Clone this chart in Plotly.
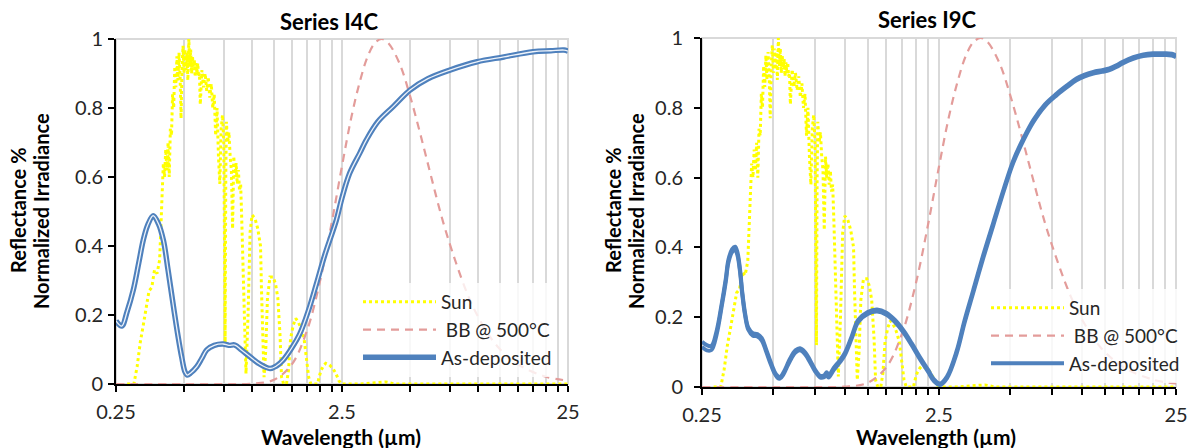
import math
import plotly.graph_objects as go

# ---------------- data ----------------
wl_sun = [0.28, 0.30, 0.31, 0.32, 0.33, 0.34, 0.35, 0.36, 0.37, 0.38, 0.39,
          0.400, 0.405, 0.410, 0.415, 0.420, 0.425, 0.430, 0.435, 0.440, 0.445, 0.450, 0.455,
          0.460, 0.465, 0.470, 0.475, 0.480, 0.485, 0.490, 0.495, 0.500, 0.505, 0.510, 0.515,
          0.520, 0.525, 0.530, 0.535, 0.540, 0.545, 0.550, 0.555, 0.560, 0.565, 0.570, 0.575,
          0.580, 0.585, 0.590, 0.595, 0.600, 0.610, 0.620, 0.630, 0.640, 0.650, 0.660, 0.670,
          0.680, 0.690, 0.700, 0.710, 0.720, 0.730, 0.740, 0.750, 0.760, 0.765, 0.770, 0.780,
          0.790, 0.800, 0.810, 0.820, 0.830, 0.840, 0.850, 0.860, 0.870, 0.880, 0.890, 0.900,
          0.92, 0.93, 0.94, 0.96, 0.98, 1.00, 1.03, 1.06, 1.09, 1.10, 1.12,
          1.13, 1.15, 1.17, 1.20, 1.24, 1.27, 1.30, 1.33, 1.35, 1.38, 1.42, 1.45, 1.48, 1.52, 1.56,
          1.60, 1.65, 1.70, 1.75, 1.78, 1.82, 1.90, 1.95, 1.98, 2.02, 2.08, 2.12, 2.20, 2.28, 2.35,
          2.42, 2.48, 2.60, 3.00, 3.40, 3.60, 3.90, 4.10, 4.30, 25.0]
sun_irr = [0.0, 0.0, 0.05, 0.12, 0.17, 0.22, 0.27, 0.28, 0.33, 0.32, 0.36,
           0.55, 0.64, 0.60, 0.68, 0.62, 0.70, 0.60, 0.74, 0.72, 0.84, 0.80, 0.92,
           0.86, 0.95, 0.88, 0.96, 0.90, 0.77, 0.92, 0.98, 0.90, 0.97, 0.91, 0.96,
           0.88, 1.00, 0.92, 0.97, 0.90, 0.95, 0.91, 0.94, 0.89, 0.93, 0.90, 0.93,
           0.89, 0.90, 0.81, 0.88, 0.91, 0.86, 0.90, 0.85, 0.89, 0.83, 0.87, 0.80,
           0.84, 0.72, 0.80, 0.66, 0.58, 0.74, 0.78, 0.70, 0.12, 0.60, 0.76, 0.70,
           0.73, 0.66, 0.62, 0.45, 0.66, 0.60, 0.64, 0.58, 0.62, 0.56, 0.58, 0.48,
           0.25, 0.10, 0.03, 0.20, 0.44, 0.49, 0.48, 0.45, 0.40, 0.28, 0.05,
           0.02, 0.10, 0.25, 0.31, 0.31, 0.29, 0.25, 0.14, 0.02, 0.0, 0.0, 0.04, 0.13, 0.17, 0.19,
           0.18, 0.16, 0.13, 0.07, 0.02, 0.0, 0.0, 0.0, 0.02, 0.04, 0.055, 0.06, 0.055, 0.045, 0.03,
           0.01, 0.0, 0.0, 0.0, 0.003, 0.005, 0.006, 0.003, 0.0, 0.0]

wl_bb = [0.25, 0.5, 0.75, 1.0, 1.25, 1.5, 1.75, 2.0, 2.25, 2.5, 2.75, 3.0, 3.25, 3.5, 3.75, 4.0,
         4.5, 5.0, 5.5, 6.0, 7.0, 8.0, 9.0, 10.0, 12.0, 15.0, 20.0, 25.0]
bb_500c = [0.0, 0.0, 0.0, 0.001, 0.012, 0.057, 0.155, 0.299, 0.467, 0.632, 0.773, 0.877, 0.950,
           0.989, 1.0, 0.989, 0.928, 0.835, 0.735, 0.638, 0.470, 0.350, 0.259, 0.195, 0.114,
           0.057, 0.021, 0.010]

wl_i4c = [0.25, 0.265, 0.28, 0.298, 0.315, 0.33, 0.345, 0.365, 0.385, 0.405, 0.425, 0.449, 0.47,
          0.488, 0.505, 0.517, 0.535, 0.569, 0.60, 0.63, 0.68, 0.745, 0.79, 0.84, 0.90, 0.98, 1.08,
          1.2, 1.28, 1.375, 1.5, 1.63, 1.78, 1.93, 2.1, 2.36, 2.5, 2.7, 3.0, 3.2, 3.6, 4.21, 5.0,
          6.0, 7.5, 9.9, 13.0, 17.5, 21.0, 24.0, 25.0]
refl_i4c = [0.183, 0.168, 0.21, 0.272, 0.35, 0.417, 0.46, 0.488, 0.465, 0.417, 0.33, 0.224, 0.14,
            0.079, 0.035, 0.026, 0.032, 0.05, 0.075, 0.099, 0.112, 0.116, 0.112, 0.113, 0.098,
            0.079, 0.058, 0.045, 0.052, 0.07, 0.105, 0.147, 0.215, 0.292, 0.375, 0.475, 0.54,
            0.61, 0.67, 0.707, 0.76, 0.804, 0.852, 0.885, 0.91, 0.934, 0.948, 0.963, 0.966, 0.968,
            0.965]

wl_i9c = [0.25, 0.262, 0.274, 0.288, 0.303, 0.315, 0.323, 0.335, 0.345, 0.353, 0.362, 0.37, 0.38,
          0.392, 0.41, 0.428, 0.447, 0.465, 0.484, 0.505, 0.52, 0.533, 0.55, 0.567, 0.587, 0.62,
          0.648, 0.68, 0.714, 0.75, 0.79, 0.82, 0.84, 0.855, 0.9, 0.95, 1.0, 1.07, 1.14, 1.25,
          1.37, 1.5, 1.63, 1.78, 1.92, 2.08, 2.25, 2.38, 2.52, 2.7, 2.97, 3.2, 3.48, 3.85, 4.24,
          4.7, 5.15, 5.7, 6.25, 7.0, 7.85, 8.7, 9.5, 10.3, 11.2, 12.2, 13.1, 14.0, 14.9, 16.5,
          18.2, 20.0, 22.0, 24.0, 25.0]
refl_i9c_a = [0.13, 0.12, 0.118, 0.16, 0.24, 0.31, 0.364, 0.395, 0.402, 0.385, 0.335, 0.27, 0.211,
              0.17, 0.154, 0.152, 0.14, 0.11, 0.077, 0.045, 0.032, 0.028, 0.04, 0.058, 0.08,
              0.105, 0.111, 0.1, 0.077, 0.05, 0.032, 0.034, 0.042, 0.033, 0.055, 0.075, 0.097,
              0.145, 0.192, 0.215, 0.222, 0.213, 0.192, 0.16, 0.125, 0.085, 0.049, 0.022, 0.01,
              0.03, 0.104, 0.19, 0.276, 0.38, 0.472, 0.57, 0.65, 0.715, 0.765, 0.81, 0.841, 0.865,
              0.884, 0.895, 0.903, 0.908, 0.913, 0.922, 0.932, 0.945, 0.953, 0.956, 0.956, 0.955,
              0.95]
refl_i9c_b = [0.115, 0.105, 0.106, 0.15, 0.232, 0.302, 0.356, 0.387, 0.393, 0.377, 0.328, 0.263,
              0.205, 0.164, 0.147, 0.145, 0.133, 0.104, 0.071, 0.04, 0.027, 0.024, 0.035, 0.053,
              0.074, 0.099, 0.105, 0.094, 0.071, 0.045, 0.027, 0.028, 0.034, 0.027, 0.049, 0.069,
              0.091, 0.139, 0.186, 0.209, 0.216, 0.207, 0.186, 0.154, 0.119, 0.079, 0.043, 0.017,
              0.006, 0.025, 0.097, 0.182, 0.268, 0.371, 0.464, 0.563, 0.643, 0.709, 0.759, 0.805,
              0.836, 0.86, 0.879, 0.89, 0.898, 0.903, 0.908, 0.917, 0.927, 0.94, 0.948, 0.951,
              0.951, 0.95, 0.945]

x_tick_vals = [0.25, 2.5, 25]
x_tick_text = ["0.25", "2.5", "25"]
x_minor_vals = [0.5, 0.75, 1.0, 1.25, 1.5, 1.75, 2.0, 2.25,
                5, 7.5, 10, 12.5, 15, 17.5, 20, 22.5]
y_tick_vals = [0, 0.2, 0.4, 0.6, 0.8, 1]
y_tick_text = ["0", "0.2", "0.4", "0.6", "0.8", "1"]

series_names = ["Sun", " BB @ 500\u00b0C", "As-deposited"]
panel_titles = ["Series I4C", "Series I9C"]
x_title = "Wavelength (\u00b5m)"
y_title_lines = ["Reflectance %", "Normalized Irradiance"]

# ---------------- styling ----------------
FONT = "Lato, Carlito, Calibri, sans-serif"
SUN_C = "#ffff00"
BB_C = "#e39c9a"
BLUE = "#4f81bd"
GRID = "#d9d9d9"
TXT = "#262626"
W, H = 1192, 448

fig = go.Figure()


def add_common(xa, ya, leg):
    fig.add_trace(go.Scatter(x=wl_sun, y=sun_irr, name=series_names[0], mode="lines",
                             line=dict(color=SUN_C, width=3, dash="dot"),
                             xaxis=xa, yaxis=ya, legend=leg, legendrank=1))
    fig.add_trace(go.Scatter(x=wl_bb, y=bb_500c, name=series_names[1], mode="lines",
                             line=dict(color=BB_C, width=2.2, dash="8px,6px", shape="spline"),
                             xaxis=xa, yaxis=ya, legend=leg, legendrank=2))


# left panel
add_common("x", "y", "legend")
fig.add_trace(go.Scatter(x=wl_i4c, y=refl_i4c, name=series_names[2], mode="lines",
                         line=dict(color=BLUE, width=5.5, shape="spline"),
                         xaxis="x", yaxis="y", legend="legend", legendrank=3))
fig.add_trace(go.Scatter(x=wl_i4c, y=refl_i4c, mode="lines", showlegend=False, hoverinfo="skip",
                         line=dict(color="#eef3fa", width=1.3, shape="spline"),
                         xaxis="x", yaxis="y"))

# right panel
add_common("x2", "y2", "legend2")
fig.add_trace(go.Scatter(x=wl_i9c, y=refl_i9c_a, name=series_names[2], mode="lines",
                         line=dict(color=BLUE, width=4, shape="spline"),
                         xaxis="x2", yaxis="y2", legend="legend2", legendrank=3))
fig.add_trace(go.Scatter(x=wl_i9c, y=refl_i9c_b, mode="lines", showlegend=False,
                         line=dict(color=BLUE, width=4, shape="spline"),
                         xaxis="x2", yaxis="y2"))


# ---------------- axes ----------------
def xaxis(domain, anchor):
    return dict(type="log", domain=domain, anchor=anchor,
                range=[math.log10(0.25), math.log10(25)],
                tickmode="array", tickvals=x_tick_vals, ticktext=x_tick_text,
                showgrid=True, gridcolor=GRID, gridwidth=2,
                showline=True, linecolor="black", linewidth=2,
                ticks="outside", ticklen=6, tickwidth=2, tickcolor="black",
                ticklabelstandoff=3, automargin=False,
                tickfont=dict(family=FONT, size=20, color=TXT),
                minor=dict(tickmode="array", tickvals=x_minor_vals, ticks="outside", ticklen=6,
                           tickwidth=2, tickcolor="black", showgrid=True, gridcolor=GRID,
                           gridwidth=2),
                zeroline=False, layer="below traces")


def yaxis(domain, anchor, standoff):
    return dict(domain=domain, anchor=anchor, range=[0, 1],
                tickmode="array", tickvals=y_tick_vals, ticktext=y_tick_text,
                showgrid=False, showline=True, linecolor="black", linewidth=2,
                ticks="outside", ticklen=6, tickwidth=2, tickcolor="black",
                ticklabelstandoff=standoff, automargin=False,
                tickfont=dict(family=FONT, size=20, color=TXT),
                zeroline=False, layer="below traces")


fig.update_layout(
    width=W, height=H,
    margin=dict(l=0, r=0, t=0, b=0, pad=0, autoexpand=False),
    paper_bgcolor="white", plot_bgcolor="white",
    font=dict(family=FONT, color="black"),
    xaxis=xaxis([116 / W, 568 / W], "y"),
    yaxis=yaxis([1 - 384 / H, 1 - 39 / H], "x", 1),
    xaxis2=xaxis([702 / W, 1176 / W], "y2"),
    yaxis2=yaxis([1 - 387 / H, 1 - 38 / H], "x2", 7),
    legend=dict(x=358 / W, y=1 - 283 / H, xanchor="left", yanchor="top",
                bgcolor="rgba(255,255,255,0.8)", itemwidth=73, tracegroupgap=0,
                font=dict(family=FONT, size=19, color=TXT)),
    legend2=dict(x=986 / W, y=1 - 289 / H, xanchor="left", yanchor="top",
                 bgcolor="rgba(255,255,255,0.8)", itemwidth=73, tracegroupgap=0,
                 font=dict(family=FONT, size=19, color=TXT)),
    showlegend=True,
)

# plot-area frame (light grey), as in the reference
for xr, yr in (("x domain", "y domain"), ("x2 domain", "y2 domain")):
    fig.add_shape(type="rect", xref=xr, yref=yr, x0=0, x1=1, y0=0, y1=1,
                  line=dict(color=GRID, width=2), layer="below")

# titles
ann = [
    dict(text="<b>" + panel_titles[0] + "</b>", x=329, y=21, size=22, angle=0),
    dict(text="<b>" + panel_titles[1] + "</b>", x=927, y=19, size=22, angle=0),
    dict(text="<b>" + x_title + "</b>", x=341, y=436, size=21, angle=0),
    dict(text="<b>" + x_title + "</b>", x=936, y=436, size=21, angle=0),
    dict(text="<b>" + y_title_lines[0] + "</b>", x=18, y=210, size=20, angle=-90),
    dict(text="<b>" + y_title_lines[1] + "</b>", x=41, y=211, size=20, angle=-90),
    dict(text="<b>" + y_title_lines[0] + "</b>", x=613, y=210, size=20, angle=-90),
    dict(text="<b>" + y_title_lines[1] + "</b>", x=636, y=211, size=20, angle=-90),
]
for a in ann:
    fig.add_annotation(text=a["text"], x=a["x"] / W, y=1 - a["y"] / H, xref="paper", yref="paper",
                       xanchor="center", yanchor="middle", showarrow=False, textangle=a["angle"],
                       font=dict(family=FONT, size=a["size"], color="black"))

# the page's default body margin would offset the figure by 8px; remove it
fig.write_html("out.html", config={"displayModeBar": False},
               post_script="document.body.style.margin='0';")
